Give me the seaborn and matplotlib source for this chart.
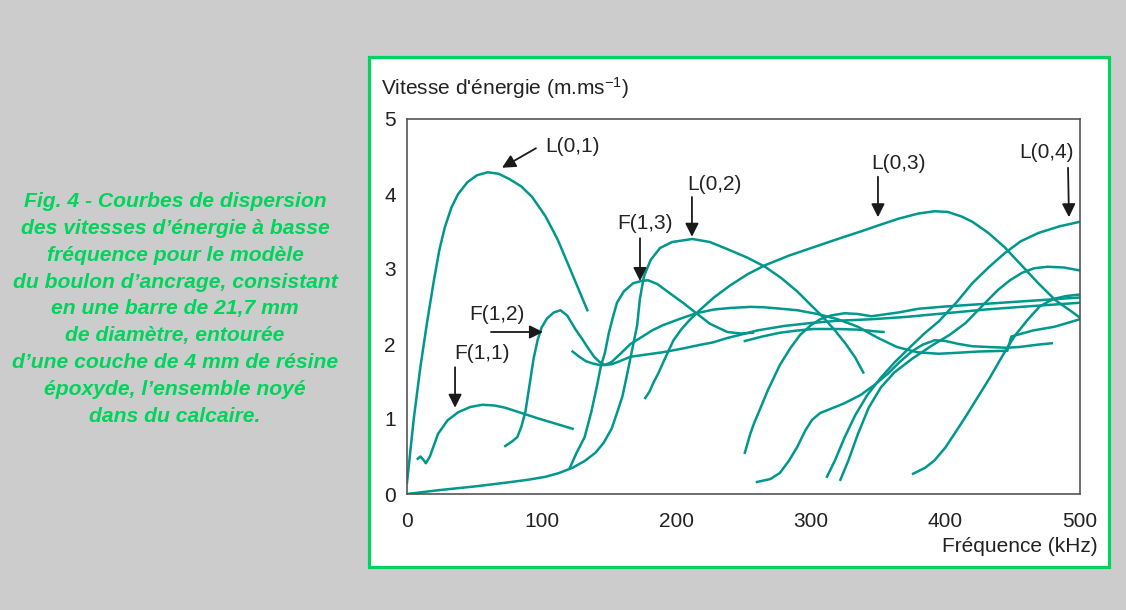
import matplotlib
matplotlib.use("Agg")
import matplotlib.pyplot as plt
import matplotlib.patches as mpatches
import seaborn as sns
import pandas as pd

plt.rcParams['font.family'] = ['Liberation Sans', 'DejaVu Sans']
plt.rcParams['mathtext.fontset'] = 'custom'
plt.rcParams['mathtext.rm'] = 'Liberation Sans'
plt.rcParams['mathtext.it'] = 'Liberation Sans:italic'
plt.rcParams['axes.unicode_minus'] = False

# ---------------- data (frequency kHz, energy velocity) ----------------
l01_f = [0, 5, 10, 15, 20, 24, 28, 33, 38, 45, 52, 60, 68, 76, 85, 93, 103, 112, 120, 127, 134]
l01_v = [0.15, 1.0, 1.7, 2.3, 2.85, 3.25, 3.55, 3.82, 4.0, 4.16, 4.25, 4.29, 4.27, 4.2, 4.1, 3.96, 3.7, 3.39, 3.05, 2.75, 2.45]

f11_f = [8, 10, 12, 14, 17, 20, 23, 30, 38, 47, 56, 65, 73, 85, 97, 110, 123]
f11_v = [0.47, 0.5, 0.46, 0.41, 0.5, 0.65, 0.8, 0.98, 1.09, 1.16, 1.19, 1.18, 1.15, 1.08, 1.01, 0.94, 0.87]

f12_f = [73, 78, 82, 85, 88, 91, 94, 97, 100, 104, 109, 114, 119, 125, 130, 134, 139, 143, 147,
         152, 158, 166, 178, 190, 205, 218, 227, 238, 247, 260, 280, 300, 320, 345, 370, 400, 430, 460, 500]
f12_v = [0.64, 0.7, 0.76, 0.9, 1.1, 1.45, 1.8, 2.05, 2.22, 2.34, 2.42, 2.45, 2.38, 2.2, 2.07, 1.96, 1.83, 1.76, 1.72,
         1.73, 1.77, 1.83, 1.86, 1.89, 1.94, 1.99, 2.02, 2.08, 2.12, 2.18, 2.24, 2.28, 2.31, 2.33, 2.36, 2.41, 2.46, 2.5, 2.55]

d_f = [123, 128, 133, 138, 143, 147, 152, 158, 166, 175, 182, 190, 205, 215, 228, 240, 255, 265, 278, 290, 305, 320,
       335, 350, 364, 379, 395, 406, 425, 446, 449, 465, 481, 500]
d_v = [1.9, 1.83, 1.77, 1.74, 1.72, 1.72, 1.76, 1.86, 2.0, 2.1, 2.18, 2.25, 2.35, 2.41, 2.46, 2.48, 2.495, 2.49, 2.47, 2.45, 2.4, 2.33,
       2.23, 2.08, 1.96, 1.89, 1.87, 1.88, 1.9, 1.91, 2.1, 2.18, 2.23, 2.33]

f13_f = [121, 126, 132, 137, 141, 144, 147, 150, 153, 156, 161, 168, 174, 179, 186, 195, 205, 215, 225, 238, 248, 257]
f13_v = [0.35, 0.55, 0.76, 1.1, 1.43, 1.7, 1.88, 2.15, 2.36, 2.55, 2.7, 2.81, 2.84, 2.85, 2.8, 2.68, 2.55, 2.41, 2.27, 2.16, 2.14, 2.15]

l02_f = [0, 23, 50, 73, 90, 103, 113, 123, 132, 140, 146, 152, 156, 160, 163, 167, 171, 173, 176, 181, 188, 197, 212,
         225, 240, 253, 266, 278, 290, 300, 309, 318, 326, 333, 339]
l02_v = [0.0, 0.05, 0.1, 0.15, 0.19, 0.23, 0.28, 0.35, 0.44, 0.55, 0.68, 0.87, 1.08, 1.3, 1.55, 1.9, 2.25, 2.6, 2.9, 3.12, 3.28, 3.36, 3.4,
         3.36, 3.25, 3.15, 3.03, 2.88, 2.7, 2.52, 2.36, 2.18, 2.0, 1.82, 1.62]

l03_f = [177, 180, 183, 187, 192, 198, 204, 210, 218, 228, 240, 253, 266, 284, 302, 320, 337, 350, 365, 380, 392, 402,
         412, 420, 432, 444, 456, 469, 482, 494, 500]
l03_v = [1.28, 1.36, 1.48, 1.62, 1.82, 2.05, 2.2, 2.32, 2.46, 2.62, 2.78, 2.93, 3.05, 3.18, 3.29, 3.4, 3.5, 3.58, 3.67, 3.74, 3.77, 3.76,
         3.7, 3.63, 3.48, 3.29, 3.06, 2.81, 2.58, 2.43, 2.35]

g_f = [251, 255, 258, 262, 268, 277, 285, 292, 300, 307, 315, 325, 335, 345, 365, 380, 400, 425, 450, 475, 500]
g_v = [0.55, 0.8, 0.95, 1.12, 1.38, 1.72, 1.95, 2.12, 2.25, 2.33, 2.38, 2.41, 2.4, 2.37, 2.42, 2.47, 2.5, 2.53, 2.56, 2.59, 2.62]

s_f = [251, 264, 277, 290, 302, 320, 337, 347, 354]
s_v = [2.04, 2.1, 2.15, 2.18, 2.2, 2.2, 2.19, 2.17, 2.16]

i_f = [260, 270, 277, 284, 290, 296, 301, 307, 314, 325, 337, 347, 357, 366, 375, 383, 392, 400, 410, 420, 432, 445, 455, 468, 479]
i_v = [0.16, 0.2, 0.28, 0.45, 0.63, 0.85, 0.99, 1.08, 1.13, 1.21, 1.32, 1.45, 1.6, 1.76, 1.9, 1.99, 2.05, 2.04, 2.0, 1.97, 1.96, 1.95, 1.96, 1.99, 2.01]

l04_f = [312, 318, 325, 333, 342, 352, 362, 375, 385, 395, 408, 420, 432, 444, 456, 469, 485, 500]
l04_v = [0.23, 0.45, 0.75, 1.05, 1.32, 1.55, 1.75, 1.98, 2.15, 2.3, 2.55, 2.81, 3.02, 3.21, 3.37, 3.48, 3.57, 3.63]

j_f = [322, 328, 335, 343, 352, 362, 375, 390, 403, 415, 428, 439, 448, 457, 466, 476, 488, 500]
j_v = [0.19, 0.45, 0.8, 1.15, 1.42, 1.62, 1.8, 1.98, 2.12, 2.28, 2.52, 2.72, 2.85, 2.95, 3.01, 3.03, 3.02, 2.98]

m_f = [376, 385, 392, 400, 407, 415, 424, 433, 442, 447, 452, 461, 470, 480, 490, 500]
m_v = [0.27, 0.35, 0.45, 0.62, 0.81, 1.03, 1.29, 1.55, 1.83, 1.98, 2.12, 2.32, 2.5, 2.6, 2.64, 2.66]

curves = {
    "L(0,1)": (l01_f, l01_v), "F(1,1)": (f11_f, f11_v), "F(1,2)": (f12_f, f12_v),
    "D": (d_f, d_v), "F(1,3)": (f13_f, f13_v), "L(0,2)": (l02_f, l02_v),
    "L(0,3)": (l03_f, l03_v), "G": (g_f, g_v), "S": (s_f, s_v), "I": (i_f, i_v),
    "L(0,4)": (l04_f, l04_v), "J": (j_f, j_v), "M": (m_f, m_v),
}

x_ticks = [0, 100, 200, 300, 400, 500]
y_ticks = [0, 1, 2, 3, 4, 5]

# label text positions, arrow tails and heads (data units)
labels = ["L(0,1)", "F(1,1)", "F(1,2)", "F(1,3)", "L(0,2)", "L(0,3)", "L(0,4)"]
label_xy = [(122.6, 4.64), (55.7, 1.87), (66.9, 2.39), (176.8, 3.61), (228.1, 4.13), (365.5, 4.41), (474.8, 4.55)]
arrow_tail = [(95.8, 4.61), (35.7, 1.69), (62.4, 2.16), (173.1, 3.41), (211.7, 3.96), (349.9, 4.23), (491.1, 4.35)]
arrow_head = [(70.6, 4.35), (35.7, 1.15), (101.0, 2.16), (173.1, 2.84), (211.7, 3.43), (349.9, 3.69), (491.8, 3.69)]

caption = ["Fig. 4 - Courbes de dispersion",
           "des vitesses d\u2019énergie à basse",
           "fréquence pour le modèle",
           "du boulon d\u2019ancrage, consistant",
           "en une barre de 21,7 mm",
           "de diamètre, entourée",
           "d\u2019une couche de 4 mm de résine",
           "époxyde, l\u2019ensemble noyé",
           "dans du calcaire."]

rows = []
for name, (fs, vs) in curves.items():
    for k, (f, v) in enumerate(zip(fs, vs)):
        rows.append({"curve": name, "order": k, "freq": f, "vel": v})
df = pd.DataFrame(rows)

# ---------------- figure ----------------
W, H = 1126, 610
fig = plt.figure(figsize=(W / 100, H / 100), dpi=100)
fig.patch.set_facecolor('#cccccc')
green = '#00d45c'
teal = '#00978c'

panel = mpatches.Rectangle((369 / W, 1 - 567 / H), (1109 - 369) / W, (567 - 57) / H,
                           transform=fig.transFigure, facecolor='white', edgecolor=green,
                           linewidth=2.3, zorder=-5)
fig.patches.append(panel)

ax = fig.add_axes([407 / W, 1 - 494 / H, (1080 - 407) / W, (494 - 119) / H])
ax.set_zorder(2)
ax.set_facecolor('white')
sns.lineplot(data=df, x="freq", y="vel", units="curve", estimator=None, sort=False,
             color=teal, linewidth=1.8, ax=ax, legend=False)
ax.set_xlim(0, 500)
ax.set_ylim(0, 5)
ax.set_xticks(x_ticks)
ax.set_yticks(y_ticks)
ax.set_xticklabels([str(t) for t in x_ticks])
ax.set_yticklabels([str(t) for t in y_ticks])
ax.tick_params(axis='both', length=0, labelsize=15, colors='#222222')
ax.tick_params(axis='x', pad=13)
ax.tick_params(axis='y', pad=8)
ax.set_xlabel("")
ax.set_ylabel("")
for sp in ax.spines.values():
    sp.set_color('#555555')
    sp.set_linewidth(1.2)

for lab, txy, tail, head in zip(labels, label_xy, arrow_tail, arrow_head):
    ax.text(txy[0], txy[1], lab, ha='center', va='center', fontsize=15, color='#222222', clip_on=False)
    ax.annotate('', xy=head, xytext=tail,
                arrowprops=dict(arrowstyle='-|>', color='#1a1a1a', lw=1.3, mutation_scale=20,
                                shrinkA=0, shrinkB=0))

fig.text(381 / W, 1 - 88 / H, "Vitesse d'énergie (m.ms$^{-1}$)", ha='left', va='center',
         fontsize=15, color='#222222')
fig.text(1098 / W, 1 - 546 / H, "Fréquence (kHz)", ha='right', va='center',
         fontsize=15, color='#222222')

for i, line in enumerate(caption):
    fig.text(175 / W, 1 - (201.7 + i * 26.8) / H, line, ha='center', va='center',
             fontsize=15.2, color=green, fontweight='bold', fontstyle='italic')

fig.savefig("out.png", dpi=100, facecolor=fig.get_facecolor())
